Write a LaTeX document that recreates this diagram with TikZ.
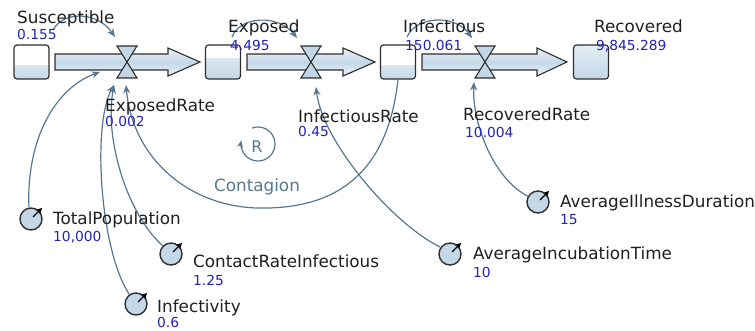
\documentclass[tikz,border=0pt]{standalone}
\usepackage{fontspec}
\setmainfont{DejaVu Sans}
\usetikzlibrary{arrows.meta}
\definecolor{linkc}{HTML}{587690}
\definecolor{valc}{HTML}{2323B4}
\definecolor{edgec}{HTML}{2E2E2E}
\definecolor{fillb}{HTML}{C3D7E7}
\definecolor{fillbl}{HTML}{EEF3F8}
\begin{document}
\begin{tikzpicture}[x=1pt,y=-1pt,
  lbl/.style={anchor=base west, inner sep=0pt, font=\fontsize{16.8}{18}\selectfont, text=black!88},
  val/.style={anchor=base west, inner sep=0pt, font=\fontsize{13.8}{15}\selectfont, text=valc},
  conn/.style={draw=linkc, line width=1.2pt, -{Stealth[length=8.5pt,width=7pt]}},
  stockbox/.style={draw=edgec, line width=1.2pt, rounded corners=3pt, minimum width=35pt, minimum height=34pt, inner sep=0pt},
  pipe/.style={draw=edgec, line width=1.1pt, top color=fillbl, bottom color=fillbl, middle color=fillb},
  valvec/.style={draw=edgec, line width=1.1pt, fill=fillb},
  constc/.style={circle, draw=edgec, line width=1.4pt, fill=fillb, minimum size=22pt, inner sep=0pt},
  needle/.style={line width=1.2pt, -{Stealth[length=6pt,width=6pt]}}
]
\useasboundingbox (0,0) rectangle (755,330);

% ---------- coordinates
\coordinate (v1) at (127,62);
\coordinate (v2) at (311,62);
\coordinate (v3) at (485,62);
\coordinate (v1top) at (115,37);
\coordinate (v1a) at (100,72);
\coordinate (v1b) at (114,85);
\coordinate (v1c) at (126,85);
\coordinate (v2top) at (297,38);
\coordinate (v2bot) at (316,87);
\coordinate (v3top) at (472,38);
\coordinate (v3bot) at (474,82);
\coordinate (s1) at (53,30);
\coordinate (e1) at (232,37);
\coordinate (i1) at (407,37);

% ---------- stock level fills
\begin{scope}
  \clip[rounded corners=3pt] (14,45) rectangle (49,79);
  \fill[white] (14,45) rectangle (49,79);
  \shade[top color=fillb!60!white, bottom color=fillb] (14,65) rectangle (49,79);
\end{scope}
\begin{scope}
  \clip[rounded corners=3pt] (205.5,45) rectangle (240.5,79);
  \fill[white] (205.5,45) rectangle (240.5,79);
  \shade[top color=fillb!60!white, bottom color=fillb] (205.5,58) rectangle (240.5,79);
\end{scope}
\begin{scope}
  \clip[rounded corners=3pt] (380.5,45) rectangle (415.5,79);
  \fill[white] (380.5,45) rectangle (415.5,79);
  \shade[top color=fillb!60!white, bottom color=fillb] (380.5,65) rectangle (415.5,79);
\end{scope}
\begin{scope}
  \clip[rounded corners=3pt] (573.5,45) rectangle (608.5,79);
  \shade[top color=fillb!45!white, bottom color=fillb] (573.5,45) rectangle (608.5,79);
\end{scope}

% ---------- stocks
\node[stockbox] (S) at (31.5,62) {};
\node[stockbox] (E) at (223,62) {};
\node[stockbox] (I) at (398,62) {};
\node[stockbox] (Rc) at (591,62) {};

% ---------- pipes
\path[pipe] (55,54) -- (168,54) -- (168,48) -- (200,62) -- (168,76) -- (168,70) -- (55,70) -- cycle;
\path[pipe] (247,54) -- (343,54) -- (343,48) -- (375,62) -- (343,76) -- (343,70) -- (247,70) -- cycle;
\path[pipe] (422,54) -- (537,54) -- (537,48) -- (567,62) -- (537,76) -- (537,70) -- (422,70) -- cycle;

% ---------- valves
\path[valvec] ([shift={(-10,-16)}]v1) -- ([shift={(10,-16)}]v1) -- ([shift={(-10,16)}]v1) -- ([shift={(10,16)}]v1) -- cycle;
\path[valvec] ([shift={(-10,-16)}]v2) -- ([shift={(10,-16)}]v2) -- ([shift={(-10,16)}]v2) -- ([shift={(10,16)}]v2) -- cycle;
\path[valvec] ([shift={(-10,-16)}]v3) -- ([shift={(10,-16)}]v3) -- ([shift={(-10,16)}]v3) -- ([shift={(10,16)}]v3) -- cycle;

% ---------- constants
\node[constc] (tp) at (31,219) {};
\node[constc] (cri) at (171,254) {};
\node[constc] (inf) at (136,304) {};
\node[constc] (aid) at (538,202) {};
\node[constc] (aic) at (450,254) {};
\foreach \c in {tp,cri,inf,aid,aic}{
  \draw[needle] ([shift={(45:3pt)}]\c.center) -- ([shift={(45:4pt)}]\c.45);
}

% ---------- connectors
\draw[conn] (s1) .. controls (64,10) and (98,12) .. (v1top);
\draw[conn] (e1) .. controls (240,16) and (278,14) .. (v2top);
\draw[conn] (i1) .. controls (416,16) and (455,14) .. (v3top);
\draw[conn] (tp.100) .. controls (26,140) and (55,88) .. (v1a);
\draw[conn] (inf.125) .. controls (100,250) and (92,125) .. (v1b);
\draw[conn] (cri.135) .. controls (128,215) and (104,140) .. (v1b);
\draw[conn] (I.south) .. controls (388,170) and (340,210) .. (257,208) .. controls (190,206) and (133,160) .. (v1c);
\draw[conn] (aic.145) .. controls (390,222) and (322,140) .. (v2bot);
\draw[conn] (aid.150) .. controls (495,180) and (472,125) .. (v3bot);

% ---------- loop marker
\begin{scope}[shift={(258,144)}, y=1pt]
  \draw[draw=linkc, line width=1.2pt, -{Stealth[length=7pt,width=6pt]}] (110:17) arc[start angle=110, end angle=-192, radius=17];
  \node[font=\fontsize{16}{18}\selectfont, text=linkc, inner sep=0pt] (Rloop) at (-1,-3) {R};
\end{scope}
\node[font=\fontsize{16.8}{18}\selectfont, text=linkc, anchor=base, inner sep=0pt] (ctg) at (257,191) {Contagion};

% ---------- labels
\node[lbl] (Sl) at (17,23) {Susceptible};
\node[val] (Sv) at (17,39) {0.155};
\node[lbl] (El) at (228,32) {Exposed};
\node[val] (Ev) at (230,50) {4.495};
\node[lbl] (Il) at (403,32) {Infectious};
\node[val] (Iv) at (405,50) {150.061};
\node[lbl] (Rl) at (594,32) {Recovered};
\node[val] (Rv) at (596,50) {9,845.289};
\node[lbl] (ERl) at (105,111) {ExposedRate};
\node[val] (ERv) at (105,126) {0.002};
\node[lbl] (IRl) at (298,122) {InfectiousRate};
\node[val] (IRv) at (298,136) {0.45};
\node[lbl] (RRl) at (463,120) {RecoveredRate};
\node[val] (RRv) at (465,137) {10.004};
\node[lbl] (TPl) at (53,224) {TotalPopulation};
\node[val] (TPv) at (53,241) {10,000};
\node[lbl] (CRl) at (193,267) {ContactRateInfectious};
\node[val] (CRv) at (193,285) {1.25};
\node[lbl] (INl) at (157,312) {Infectivity};
\node[val] (INv) at (157,327) {0.6};
\node[lbl] (AIDl) at (560,207) {AverageIllnessDuration};
\node[val] (AIDv) at (560,224) {15};
\node[lbl] (AICl) at (473,259) {AverageIncubationTime};
\node[val] (AICv) at (473,277) {10};
\end{tikzpicture}
\end{document}
